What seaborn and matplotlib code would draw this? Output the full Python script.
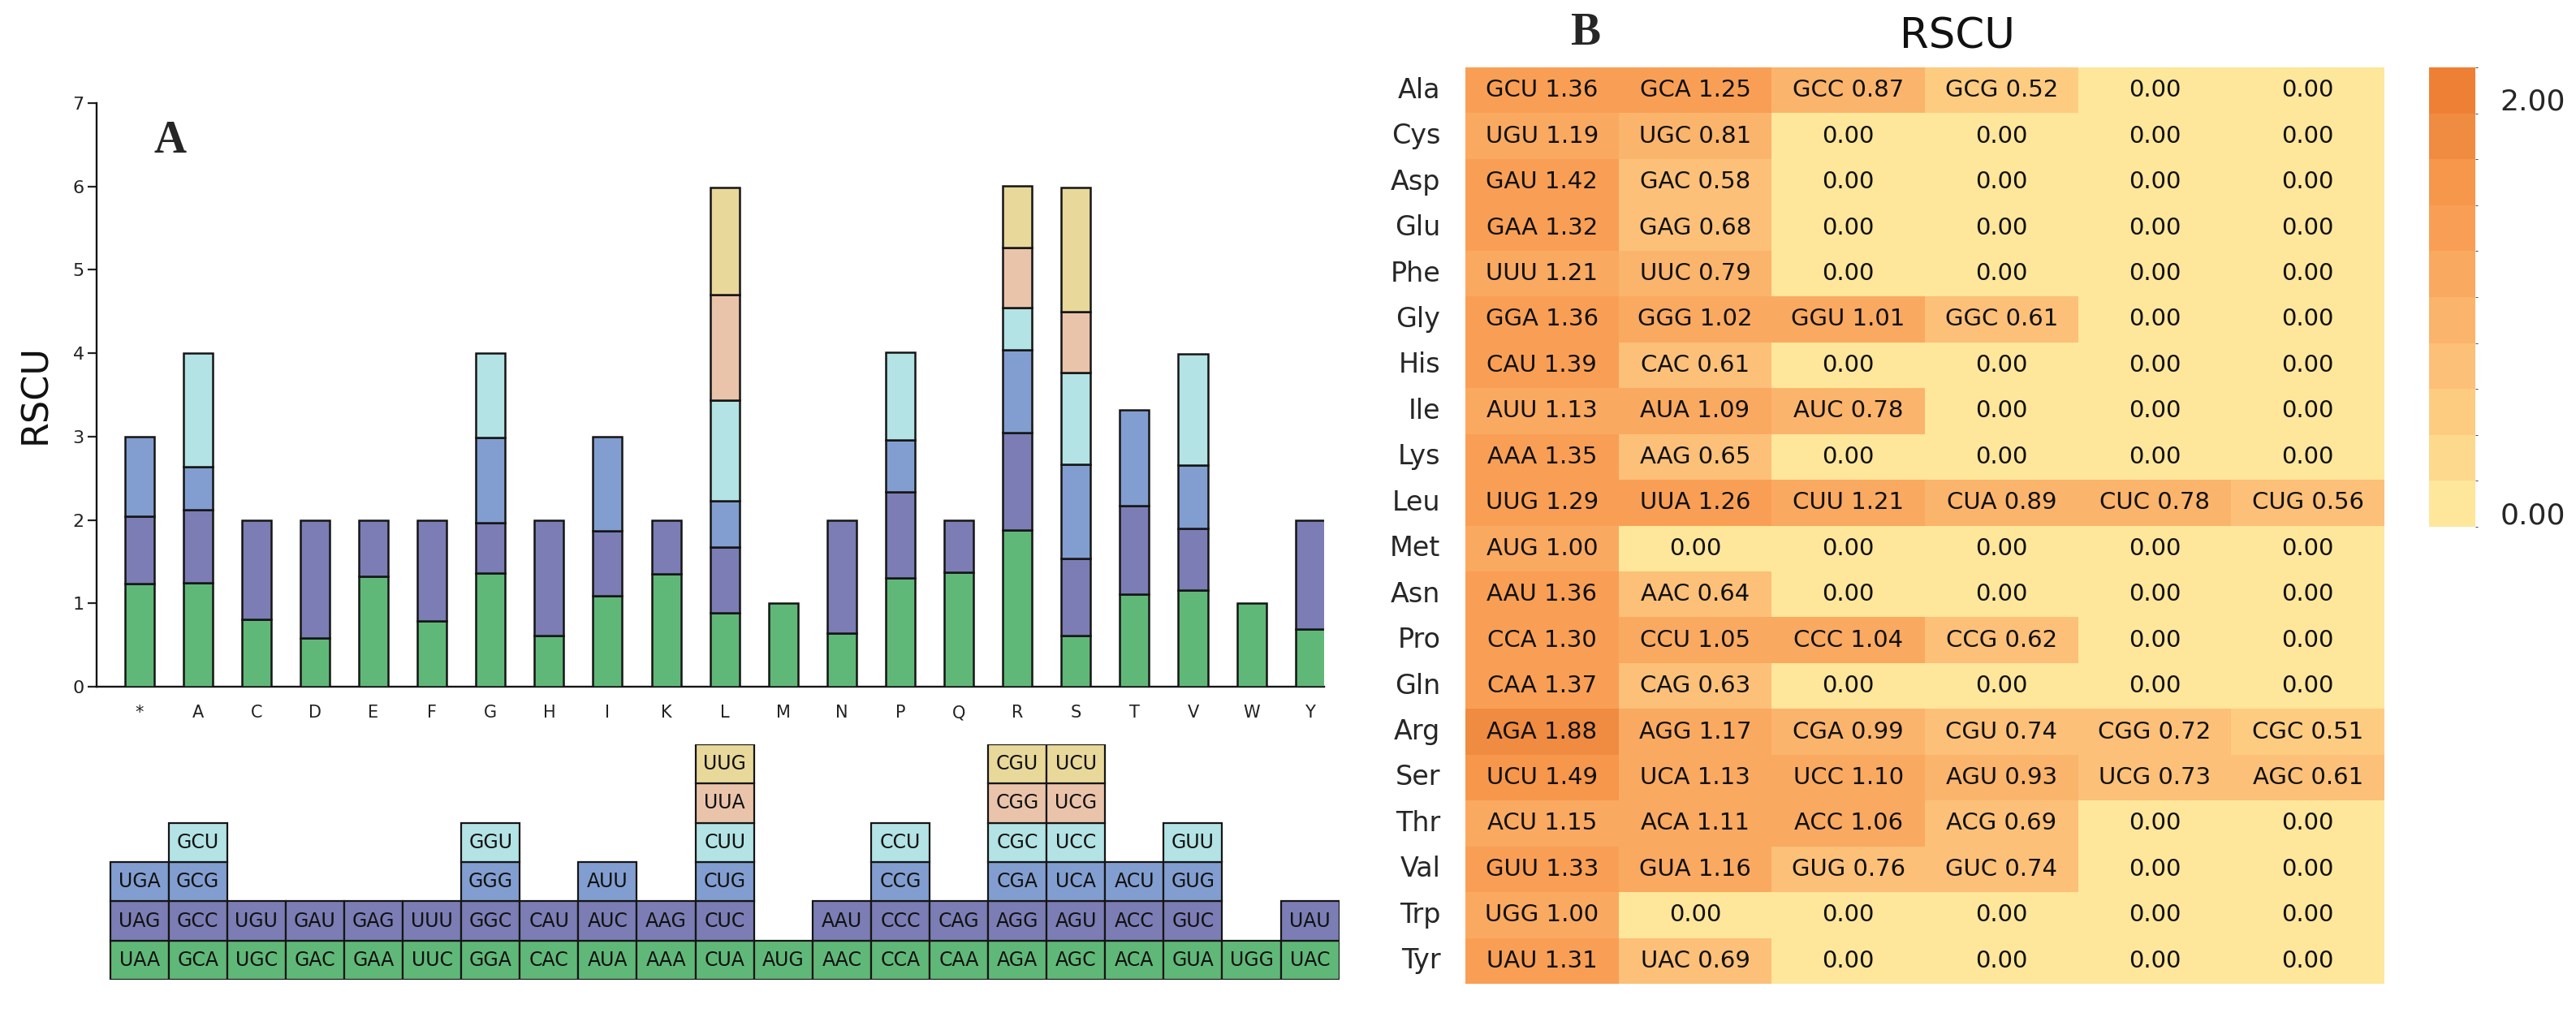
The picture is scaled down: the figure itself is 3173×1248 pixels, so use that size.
import numpy as np
import pandas as pd
import matplotlib
matplotlib.use("Agg")
import matplotlib.pyplot as plt
import seaborn as sns
from matplotlib.colors import ListedColormap, BoundaryNorm
from matplotlib.transforms import ScaledTranslation

# ---------------- Panel A data ----------------
aa_letters = ['*', 'A', 'C', 'D', 'E', 'F', 'G', 'H', 'I', 'K', 'L',
              'M', 'N', 'P', 'Q', 'R', 'S', 'T', 'V', 'W', 'Y']

# stack levels, bottom -> top ('' = no codon at that level)
level1_codons = ['UAA', 'GCA', 'UGC', 'GAC', 'GAA', 'UUC', 'GGA', 'CAC', 'AUA', 'AAA', 'CUA',
                 'AUG', 'AAC', 'CCA', 'CAA', 'AGA', 'AGC', 'ACA', 'GUA', 'UGG', 'UAC']
level1_values = [1.24, 1.25, 0.81, 0.58, 1.32, 0.79, 1.36, 0.61, 1.09, 1.35, 0.89,
                 1.00, 0.64, 1.30, 1.37, 1.88, 0.61, 1.11, 1.16, 1.00, 0.69]
level2_codons = ['UAG', 'GCC', 'UGU', 'GAU', 'GAG', 'UUU', 'GGC', 'CAU', 'AUC', 'AAG', 'CUC',
                 '', 'AAU', 'CCC', 'CAG', 'AGG', 'AGU', 'ACC', 'GUC', '', 'UAU']
level2_values = [0.80, 0.87, 1.19, 1.42, 0.68, 1.21, 0.61, 1.39, 0.78, 0.65, 0.78,
                 0.00, 1.36, 1.04, 0.63, 1.17, 0.93, 1.06, 0.74, 0.00, 1.31]
level3_codons = ['UGA', 'GCG', '', '', '', '', 'GGG', '', 'AUU', '', 'CUG',
                 '', '', 'CCG', '', 'CGA', 'UCA', 'ACU', 'GUG', '', '']
level3_values = [0.96, 0.52, 0, 0, 0, 0, 1.02, 0, 1.13, 0, 0.56,
                 0, 0, 0.62, 0, 0.99, 1.13, 1.15, 0.76, 0, 0]
level4_codons = ['', 'GCU', '', '', '', '', 'GGU', '', '', '', 'CUU',
                 '', '', 'CCU', '', 'CGC', 'UCC', '', 'GUU', '', '']
level4_values = [0, 1.36, 0, 0, 0, 0, 1.01, 0, 0, 0, 1.21,
                 0, 0, 1.05, 0, 0.51, 1.10, 0, 1.33, 0, 0]
level5_codons = ['', '', '', '', '', '', '', '', '', '', 'UUA',
                 '', '', '', '', 'CGG', 'UCG', '', '', '', '']
level5_values = [0, 0, 0, 0, 0, 0, 0, 0, 0, 0, 1.26,
                 0, 0, 0, 0, 0.72, 0.73, 0, 0, 0, 0]
level6_codons = ['', '', '', '', '', '', '', '', '', '', 'UUG',
                 '', '', '', '', 'CGU', 'UCU', '', '', '', '']
level6_values = [0, 0, 0, 0, 0, 0, 0, 0, 0, 0, 1.29,
                 0, 0, 0, 0, 0.74, 1.49, 0, 0, 0, 0]

level_colors = ['#60B878', '#7B7DB4', '#829ED0', '#B3E3E4', '#EAC4AA', '#E8D89A']

# ---------------- Panel B data ----------------
heat_rows = ['Ala', 'Cys', 'Asp', 'Glu', 'Phe', 'Gly', 'His', 'Ile', 'Lys', 'Leu',
             'Met', 'Asn', 'Pro', 'Gln', 'Arg', 'Ser', 'Thr', 'Val', 'Trp', 'Tyr']
heat_codons = [
    ['GCU', 'GCA', 'GCC', 'GCG', '', ''],
    ['UGU', 'UGC', '', '', '', ''],
    ['GAU', 'GAC', '', '', '', ''],
    ['GAA', 'GAG', '', '', '', ''],
    ['UUU', 'UUC', '', '', '', ''],
    ['GGA', 'GGG', 'GGU', 'GGC', '', ''],
    ['CAU', 'CAC', '', '', '', ''],
    ['AUU', 'AUA', 'AUC', '', '', ''],
    ['AAA', 'AAG', '', '', '', ''],
    ['UUG', 'UUA', 'CUU', 'CUA', 'CUC', 'CUG'],
    ['AUG', '', '', '', '', ''],
    ['AAU', 'AAC', '', '', '', ''],
    ['CCA', 'CCU', 'CCC', 'CCG', '', ''],
    ['CAA', 'CAG', '', '', '', ''],
    ['AGA', 'AGG', 'CGA', 'CGU', 'CGG', 'CGC'],
    ['UCU', 'UCA', 'UCC', 'AGU', 'UCG', 'AGC'],
    ['ACU', 'ACA', 'ACC', 'ACG', '', ''],
    ['GUU', 'GUA', 'GUG', 'GUC', '', ''],
    ['UGG', '', '', '', '', ''],
    ['UAU', 'UAC', '', '', '', ''],
]
heat_values = [
    [1.36, 1.25, 0.87, 0.52, 0.00, 0.00],
    [1.19, 0.81, 0.00, 0.00, 0.00, 0.00],
    [1.42, 0.58, 0.00, 0.00, 0.00, 0.00],
    [1.32, 0.68, 0.00, 0.00, 0.00, 0.00],
    [1.21, 0.79, 0.00, 0.00, 0.00, 0.00],
    [1.36, 1.02, 1.01, 0.61, 0.00, 0.00],
    [1.39, 0.61, 0.00, 0.00, 0.00, 0.00],
    [1.13, 1.09, 0.78, 0.00, 0.00, 0.00],
    [1.35, 0.65, 0.00, 0.00, 0.00, 0.00],
    [1.29, 1.26, 1.21, 0.89, 0.78, 0.56],
    [1.00, 0.00, 0.00, 0.00, 0.00, 0.00],
    [1.36, 0.64, 0.00, 0.00, 0.00, 0.00],
    [1.30, 1.05, 1.04, 0.62, 0.00, 0.00],
    [1.37, 0.63, 0.00, 0.00, 0.00, 0.00],
    [1.88, 1.17, 0.99, 0.74, 0.72, 0.51],
    [1.49, 1.13, 1.10, 0.93, 0.73, 0.61],
    [1.15, 1.11, 1.06, 0.69, 0.00, 0.00],
    [1.33, 1.16, 0.76, 0.74, 0.00, 0.00],
    [1.00, 0.00, 0.00, 0.00, 0.00, 0.00],
    [1.31, 0.69, 0.00, 0.00, 0.00, 0.00],
]
cbar_colors = ['#FEE69B', '#FDD98E', '#FDCC81', '#FCC078', '#FBB46C',
               '#FAA961', '#F99F55', '#F6974B', '#F08B42', '#EE8035']
cbar_tick_values = [0.0, 2.0]

# ---------------- figure ----------------
sns.set_style("white")
plt.rcParams['font.family'] = ['DejaVu Sans']

W, H = 3173, 1248
fig = plt.figure(figsize=(W / 100, H / 100), dpi=100)


def rect(x0, y0, x1, y1):
    return [x0 / W, 1 - y1 / H, (x1 - x0) / W, (y1 - y0) / H]


levels_codons = [level1_codons, level2_codons, level3_codons,
                 level4_codons, level5_codons, level6_codons]
levels_values = [level1_values, level2_values, level3_values,
                 level4_values, level5_values, level6_values]
xpos = np.arange(len(aa_letters))

# --- stacked bars (panel A) ---
ax = fig.add_axes(rect(119, 127, 1631, 846))
bottoms = np.zeros(len(aa_letters))
for vals, col in zip(levels_values, level_colors):
    vals = np.asarray(vals, dtype=float)
    mask = vals > 0
    ax.bar(xpos[mask], vals[mask], bottom=bottoms[mask], width=0.5,
           color=col, edgecolor='#151515', linewidth=1.8, zorder=3)
    bottoms = bottoms + vals
ax.set_xlim(-0.73, 20.24)
ax.set_ylim(0, 7)
ax.set_xticks(xpos)
ax.set_xticklabels(aa_letters)
ax.set_yticks(range(0, 8))
ax.tick_params(axis='x', length=0, pad=16, labelsize=15, colors='#222222')
ax.tick_params(axis='y', length=8, width=1.6, pad=3, labelsize=16,
               direction='out', left=True, colors='#222222')
for s in ['top', 'right']:
    ax.spines[s].set_visible(False)
for s in ['left', 'bottom']:
    ax.spines[s].set_linewidth(1.7)
    ax.spines[s].set_color('#151515')
ax.grid(False)
fig.text(44 / W, 1 - 486 / H, 'RSCU', rotation=90, ha='center', va='center',
         fontsize=32, color='#111111')
fig.text(209 / W, 1 - 174 / H, 'A', ha='center', va='center', fontsize=40,
         fontweight='bold', family=['Liberation Serif', 'DejaVu Serif'])

# --- codon table under panel A ---
axt = fig.add_axes(rect(119, 917, 119 + (20.5 + 0.73) * 72.1, 1207))
axt.set_xlim(-0.73, 20.5)
axt.set_ylim(0, 6)
axt.axis('off')
for lvl, (codons, col) in enumerate(zip(levels_codons, level_colors)):
    idx = [i for i, c in enumerate(codons) if c]
    axt.bar(idx, [1] * len(idx), bottom=lvl, width=1.0, color=col,
            edgecolor='#151515', linewidth=1.6, align='center')
    for i in idx:
        axt.text(i, lvl + 0.5, codons[i], ha='center', va='center',
                 fontsize=17, color='#111111')

# --- heatmap (panel B) ---
vals_arr = np.array(heat_values)
annot = np.array([[f"{c} {v:.2f}" if c else f"{v:.2f}" for c, v in zip(cr, vr)]
                  for cr, vr in zip(heat_codons, heat_values)])
df = pd.DataFrame(vals_arr, index=heat_rows)
cmap = ListedColormap(cbar_colors)
step = 2.0 / 9
bounds = [-step / 2 + k * step for k in range(11)]
norm = BoundaryNorm(bounds, cmap.N)

axh = fig.add_axes(rect(1805, 83, 2937, 1212))
cax = fig.add_axes(rect(2992, 83, 3049, 649))
sns.heatmap(df, ax=axh, cbar_ax=cax, cmap=cmap, norm=norm, annot=annot, fmt='',
            annot_kws={'size': 21, 'color': '#111111'},
            xticklabels=False, yticklabels=heat_rows,
            cbar_kws={'ticks': cbar_tick_values, 'format': '%.2f'})
axh.tick_params(axis='y', length=0, pad=22, labelsize=24, rotation=0)
cax.tick_params(length=0, labelsize=26, pad=22)
offset = ScaledTranslation(0, -11 / 100, fig.dpi_scale_trans)
for lab in cax.get_yticklabels():
    lab.set_transform(lab.get_transform() + offset)
axh.set_xlabel('')
axh.set_ylabel('')

fig.text(2411 / W, 1 - 46 / H, 'RSCU', ha='center', va='center', fontsize=37,
         color='#111111')
fig.text(1953 / W, 1 - 41 / H, 'B', ha='center', va='center', fontsize=40,
         fontweight='bold', family=['Liberation Serif', 'DejaVu Serif'])

fig.savefig('out.png', dpi=100, facecolor='white')
